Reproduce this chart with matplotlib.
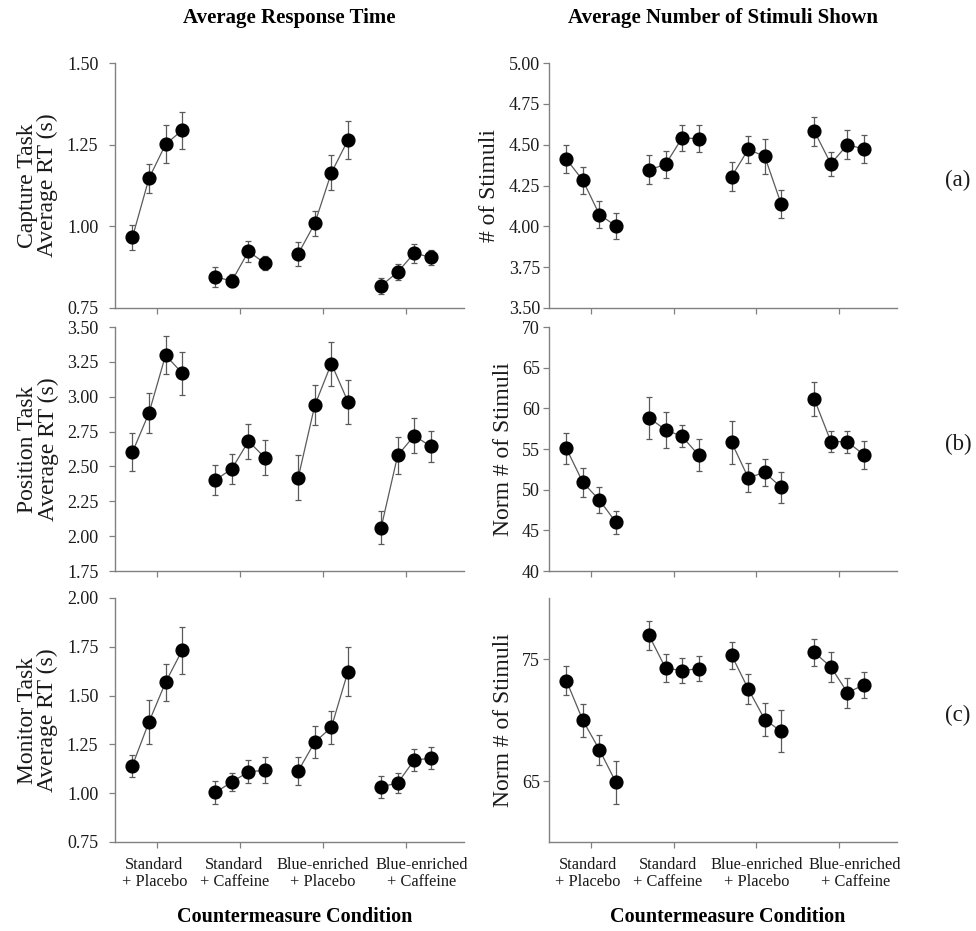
import matplotlib
matplotlib.use("Agg")
import matplotlib.pyplot as plt
import matplotlib.transforms as mtransforms
import numpy as np

plt.rcParams['font.family'] = ['Liberation Serif', 'DejaVu Serif']

# ---------------- data ----------------
conditions = ["Standard\n+ Placebo", "Standard\n+ Caffeine",
              "Blue-enriched\n+ Placebo", "Blue-enriched\n+ Caffeine"]

# Capture task (a)
capture_rt = [[0.966, 1.147, 1.251, 1.294],
              [0.845, 0.833, 0.923, 0.887],
              [0.916, 1.009, 1.164, 1.264],
              [0.818, 0.860, 0.918, 0.905]]
capture_rt_err = [[0.039, 0.045, 0.058, 0.056],
                  [0.030, 0.020, 0.033, 0.022],
                  [0.036, 0.038, 0.054, 0.057],
                  [0.025, 0.025, 0.029, 0.022]]
capture_stim = [[4.412, 4.281, 4.072, 4.002],
                [4.346, 4.379, 4.541, 4.537],
                [4.305, 4.471, 4.428, 4.135],
                [4.582, 4.383, 4.500, 4.473]]
capture_stim_err = [[0.088, 0.080, 0.081, 0.078],
                    [0.089, 0.084, 0.081, 0.083],
                    [0.090, 0.083, 0.105, 0.085],
                    [0.088, 0.075, 0.090, 0.084]]

# Position task (b)
position_rt = [[2.602, 2.883, 3.298, 3.169],
               [2.402, 2.483, 2.681, 2.562],
               [2.419, 2.938, 3.238, 2.964],
               [2.060, 2.579, 2.721, 2.643]]
position_rt_err = [[0.138, 0.145, 0.137, 0.155],
                   [0.110, 0.107, 0.125, 0.124],
                   [0.160, 0.144, 0.158, 0.157],
                   [0.119, 0.133, 0.125, 0.108]]
position_stim = [[55.07, 50.89, 48.72, 45.98],
                 [58.83, 57.36, 56.54, 54.25],
                 [55.80, 51.47, 52.12, 50.28],
                 [61.12, 55.92, 55.88, 54.29]]
position_stim_err = [[1.88, 1.74, 1.55, 1.45],
                     [2.62, 2.23, 1.35, 1.92],
                     [2.60, 1.80, 1.64, 1.88],
                     [2.09, 1.35, 1.35, 1.72]]

# Monitor task (c)
monitor_rt = [[1.141, 1.365, 1.568, 1.732],
              [1.004, 1.057, 1.110, 1.117],
              [1.114, 1.262, 1.337, 1.623],
              [1.033, 1.052, 1.170, 1.179]]
monitor_rt_err = [[0.057, 0.114, 0.096, 0.121],
                  [0.060, 0.048, 0.059, 0.067],
                  [0.073, 0.082, 0.083, 0.125],
                  [0.057, 0.049, 0.055, 0.056]]
monitor_stim = [[73.23, 69.96, 67.56, 64.89],
                [76.93, 74.26, 74.05, 74.21],
                [75.30, 72.55, 70.04, 69.06],
                [75.54, 74.35, 72.25, 72.87]]
monitor_stim_err = [[1.16, 1.35, 1.25, 1.76],
                    [1.19, 1.16, 1.05, 1.05],
                    [1.08, 1.25, 1.35, 1.72],
                    [1.10, 1.23, 1.23, 1.08]]

left_ylabels = ["Capture Task\nAverage RT (s)", "Position Task\nAverage RT (s)",
                "Monitor Task\nAverage RT (s)"]
right_ylabels = ["# of Stimuli", "Norm # of Stimuli", "Norm # of Stimuli"]
panel_tags = ["(a)", "(b)", "(c)"]

left_ylims = [(0.75, 1.50), (1.75, 3.50), (0.75, 2.00)]
left_yticks = [[0.75, 1.00, 1.25, 1.50],
               [1.75, 2.00, 2.25, 2.50, 2.75, 3.00, 3.25, 3.50],
               [0.75, 1.00, 1.25, 1.50, 1.75, 2.00]]
right_ylims = [(3.50, 5.00), (40, 70), (60, 80)]
right_yticks = [[3.50, 3.75, 4.00, 4.25, 4.50, 4.75, 5.00],
                [40, 45, 50, 55, 60, 65, 70],
                [65, 75]]
right_fmt = ["{:.2f}", "{:.0f}", "{:.0f}"]

left_data = [(capture_rt, capture_rt_err), (position_rt, position_rt_err),
             (monitor_rt, monitor_rt_err)]
right_data = [(capture_stim, capture_stim_err), (position_stim, position_stim_err),
              (monitor_stim, monitor_stim_err)]

# ---------------- layout ----------------
W, H = 976, 931
fig = plt.figure(figsize=(W / 100, H / 100), dpi=100)

def frac_rect(x0, x1, y0, y1):
    return [x0 / W, 1 - y1 / H, (x1 - x0) / W, (y1 - y0) / H]

rows_px = [(63, 308), (327, 571), (598, 842)]
left_px = (115, 464)
right_px = (549, 897)

offsets = np.array([-0.3, -0.1, 0.1, 0.3])
group_x = np.arange(1, 5)
label_shift_px = [-3, -6, 0, 16]   # horizontal nudges of category labels
spine_col = '#808080'
line_col = '#5a5a5a'
err_col = '#5a5a5a'
txt_col = '#1a1a1a'

def draw(ax, means, errs):
    for g in range(4):
        xs = group_x[g] + offsets
        ax.plot(xs, means[g], color=line_col, lw=0.9, zorder=2)
        ax.errorbar(xs, means[g], yerr=errs[g], fmt='none', ecolor=err_col,
                    elinewidth=0.9, capsize=2.3, capthick=0.9, zorder=2)
        ax.plot(xs, means[g], 'o', color='black', ms=9.2, zorder=3)

def style(ax, ylim, yticks, fmt, ypad, show_x):
    ax.set_xlim(0.49, 4.70)
    ax.set_ylim(*ylim)
    ax.set_yticks(yticks)
    ax.set_yticklabels([fmt.format(v) for v in yticks])
    ax.set_xticks(group_x)
    ax.set_xticklabels([])
    if show_x:
        base = mtransforms.blended_transform_factory(ax.transData, ax.transAxes)
        for xv, lab, dx in zip(group_x, conditions, label_shift_px):
            off = mtransforms.ScaledTranslation(dx / 100, -15 / 100,
                                                fig.dpi_scale_trans)
            ax.text(xv, 0, lab, transform=base + off, ha='center', va='top',
                    fontsize=11.8, linespacing=1.12, color=txt_col)
    for s in ['top', 'right']:
        ax.spines[s].set_visible(False)
    for s in ['left', 'bottom']:
        ax.spines[s].set_color(spine_col)
        ax.spines[s].set_linewidth(1.0)
    ax.tick_params(axis='y', direction='out', length=4, width=0.9, color=spine_col,
                   labelsize=13, pad=ypad, labelcolor=txt_col)
    ax.tick_params(axis='x', direction='out', length=4, width=0.9, color=spine_col)

for r in range(3):
    y0, y1 = rows_px[r]
    axl = fig.add_axes(frac_rect(left_px[0], left_px[1], y0, y1))
    draw(axl, *left_data[r])
    style(axl, left_ylims[r], left_yticks[r], "{:.2f}", 8, r == 2)
    axl.set_ylabel(left_ylabels[r], fontsize=17, linespacing=0.95, labelpad=6,
                   color=txt_col)

    axr = fig.add_axes(frac_rect(right_px[0], right_px[1], y0, y1))
    draw(axr, *right_data[r])
    style(axr, right_ylims[r], right_yticks[r], right_fmt[r], 2.5, r == 2)
    axr.set_ylabel(right_ylabels[r], fontsize=17, labelpad=6, color=txt_col)

    fig.text(958 / W, 1 - ((y0 + y1) / 2 - 5) / H, panel_tags[r], fontsize=16.5,
             ha='center', va='center', color=txt_col)

fig.text((left_px[0] + left_px[1]) / 2 / W, 1 - 18 / H, "Average Response Time",
         fontsize=15, fontweight='bold', ha='center', va='center')
fig.text((right_px[0] + right_px[1]) / 2 / W, 1 - 18 / H,
         "Average Number of Stimuli Shown", fontsize=15, fontweight='bold',
         ha='center', va='center')
for xp in (left_px, right_px):
    fig.text(((xp[0] + xp[1]) / 2 + 5) / W, 1 - 917 / H, "Countermeasure Condition",
             fontsize=14.5, fontweight='bold', ha='center', va='center')

fig.savefig("out.png", dpi=100)
